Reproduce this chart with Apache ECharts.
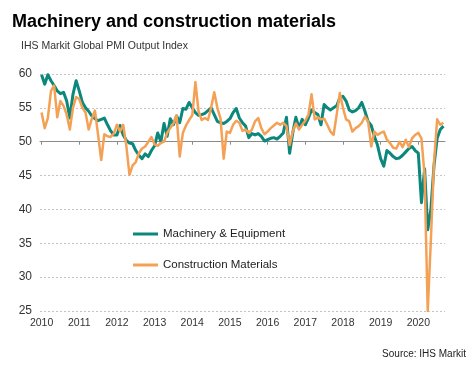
<!DOCTYPE html>
<html><head><meta charset="utf-8">
<script src="https://cdn.jsdelivr.net/npm/echarts@6/dist/echarts.min.js"></script>
<style>html,body{margin:0;padding:0;background:#fff}#c{width:471px;height:366px}</style>
</head><body><div id="c"></div>
<script>
// ---- data (monthly, Jan 2010 – Sep 2020) ----
const startYear = 2010;
const yearLabels = ['2010','2011','2012','2013','2014','2015','2016','2017','2018','2019','2020'];
const machinery = [
  59.9, 58.5, 59.9, 59.0, 58.3, 57.5, 57.1, 57.3, 56.0, 53.5, 57.0, 59.0,
  57.5, 55.8, 55.0, 54.5, 53.8, 53.4, 53.1, 53.3, 53.5, 52.5, 51.6, 51.0,
  51.0, 52.4, 51.0, 50.2, 49.8, 49.7, 48.7, 48.0, 47.5, 48.2, 47.8, 48.7,
  49.4, 51.3, 50.0, 52.7, 50.8, 53.4, 52.5, 53.8, 52.8, 54.9, 54.8, 55.8,
  55.0, 54.3, 53.9, 54.0, 54.2, 54.6, 55.0, 54.0, 53.0, 52.8, 52.7, 53.0,
  53.4, 54.3, 54.9, 53.5, 52.8, 52.3, 50.6, 51.2, 51.0, 51.2, 50.8, 50.1,
  50.3, 50.5, 50.6, 50.4, 50.8, 51.3, 53.6, 48.3, 51.3, 53.6, 52.0, 53.3,
  52.5, 53.5, 54.7, 54.3, 54.0, 52.5, 55.5, 55.0, 54.7, 55.0, 55.3, 56.5,
  56.7, 56.0, 54.7, 54.4, 54.6, 55.0, 55.8, 54.5, 53.0, 52.4, 50.8, 49.5,
  47.5, 46.4, 48.7, 48.3, 47.8, 47.5, 47.6, 48.0, 48.5, 49.0, 49.3, 48.7,
  48.3, 41.0, 46.0, 37.0, 40.0, 46.5, 50.5, 51.8, 52.3
];
const construction = [
  54.3, 52.0, 53.5, 57.5, 58.3, 53.6, 56.0, 55.3, 54.0, 51.8, 55.0, 56.6,
  56.3, 55.0, 54.3, 51.8, 53.4, 54.6, 51.0, 47.3, 51.1, 50.8, 50.7, 51.2,
  52.5, 51.5, 52.5, 49.4, 45.1, 46.5, 47.0, 48.3, 49.0, 49.3, 50.0, 50.7,
  49.6, 49.4, 49.8, 50.0, 51.3, 52.0, 52.7, 53.9, 47.8, 51.3, 52.4, 53.2,
  53.9, 58.8, 54.5, 53.2, 53.5, 53.2, 55.0, 57.3, 55.0, 53.4, 47.5, 51.5,
  51.3, 52.5, 53.1, 52.8, 51.6, 51.8, 51.3, 51.8, 53.0, 53.5, 52.0, 51.1,
  51.5, 52.0, 52.4, 52.8, 52.5, 52.8, 52.3, 49.5, 51.5, 52.7, 51.8, 52.5,
  53.1, 54.0, 57.0, 53.3, 53.6, 53.3, 53.4, 52.5, 51.5, 51.0, 54.0, 57.2,
  55.0, 53.3, 53.0, 51.5, 52.0, 52.3, 52.8, 53.7, 53.0, 49.3, 51.5, 51.0,
  51.3, 51.5, 50.3, 49.8, 49.1, 49.0, 50.0, 49.2, 50.3, 49.2, 50.5, 51.0,
  51.3, 50.5, 45.0, 25.0, 35.5, 47.0, 53.3, 52.5, 52.8
];
const seriesNames = ['Machinery & Equipment', 'Construction Materials'];
const yMin = 25, yMax = 60, yStep = 5, refLevel = 50;

// month categories built from the year list
const months = [];
for (let i = 0; i < machinery.length; i++) {
  const y = startYear + Math.floor(i / 12);
  const m = (i % 12) + 1;
  months.push(y + '-' + (m < 10 ? '0' + m : m));
}

const W = 471, H = 366;
const gridTop = 74, gridBottom = 55, gridLeft = 40, gridRight = 26;
const gridH = H - gridTop - gridBottom;
const refOffset = gridH * (refLevel - yMin) / (yMax - yMin);
const FONT = '"Liberation Sans", Arial, sans-serif';
const isJan = (idx) => idx % 12 === 0;

const chart = echarts.init(document.getElementById('c'), null, {renderer: 'canvas'});
chart.setOption({
  animation: false,
  backgroundColor: '#fff',
  textStyle: {fontFamily: FONT},
  title: [
    {text: 'Machinery and construction materials', left: 12, top: 13, padding: 0,
     textStyle: {fontFamily: FONT, fontSize: 18, fontWeight: 'bold', color: '#000'}},
    {text: 'IHS Markit Global PMI Output Index', left: 21, top: 41, padding: 0,
     textStyle: {fontFamily: FONT, fontSize: 10.5, fontWeight: 'normal', color: '#333'}},
    {text: 'Source: IHS Markit', right: 5, top: 349, padding: 0,
     textStyle: {fontFamily: FONT, fontSize: 10, fontWeight: 'normal', color: '#222'}}
  ],
  legend: {
    orient: 'vertical', left: 133, top: 227, padding: 0,
    itemWidth: 25, itemHeight: 3, itemGap: 17, icon: 'rect',
    textStyle: {fontFamily: FONT, fontSize: 11.5, color: '#222', lineHeight: 14},
    data: seriesNames
  },
  grid: {left: gridLeft, right: gridRight, top: gridTop, bottom: gridBottom, containLabel: false},
  xAxis: [
    {type: 'category', data: months, boundaryGap: true, position: 'bottom',
     axisLine: {show: false}, axisTick: {show: false},
     axisLabel: {interval: (idx) => isJan(idx), formatter: (v) => v.slice(0, 4),
                 fontFamily: FONT, fontSize: 10.5, color: '#333', margin: 7},
     splitLine: {show: false}},
    {type: 'category', data: months, boundaryGap: true, position: 'bottom', offset: -refOffset,
     axisLine: {show: true, lineStyle: {color: '#8a8a8a', width: 1}},
     axisTick: {show: true, alignWithLabel: true, interval: (idx) => isJan(idx), length: 3,
                lineStyle: {color: '#8a8a8a', width: 1}},
     axisLabel: {show: false}, splitLine: {show: false}}
  ],
  yAxis: {
    type: 'value', min: yMin, max: yMax, interval: yStep,
    axisLine: {show: false}, axisTick: {show: false},
    axisLabel: {fontFamily: FONT, fontSize: 12, color: '#333', margin: 8},
    splitLine: {show: true, lineStyle: {color: '#c4c4c4', width: 1, type: [2, 2]}}
  },
  series: [
    {name: seriesNames[0], type: 'line', data: machinery, xAxisIndex: 0,
     showSymbol: false, symbol: 'none', smooth: false,
     lineStyle: {color: '#0b877c', width: 3, join: 'round'},
     itemStyle: {color: '#0b877c'}},
    {name: seriesNames[1], type: 'line', data: construction, xAxisIndex: 0,
     showSymbol: false, symbol: 'none', smooth: false,
     lineStyle: {color: '#f4a155', width: 2.5, join: 'round'},
     itemStyle: {color: '#f4a155'}}
  ]
});
</script>
</body></html>
